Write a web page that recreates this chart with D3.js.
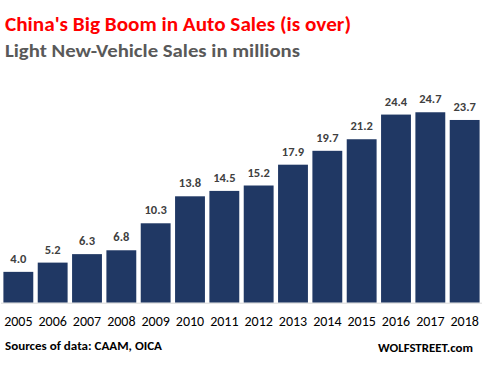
<!DOCTYPE html>
<html><head><meta charset="utf-8">
<script src="https://cdn.jsdelivr.net/npm/d3@7"></script>
<style>
html,body{margin:0;padding:0;background:#fff;}
svg{display:block;font-family:Carlito, Lato, "Open Sans", sans-serif;}
</style></head>
<body>
<svg id="chart" width="484" height="365"></svg>
<script>
const years = ["2005","2006","2007","2008","2009","2010","2011","2012","2013","2014","2015","2016","2017","2018"];
const sales = [4.0, 5.2, 6.3, 6.8, 10.3, 13.8, 14.5, 15.2, 17.9, 19.7, 21.2, 24.4, 24.7, 23.7];
const titleText = "China's Big Boom in Auto Sales (is over)";
const subtitleText = "Light New-Vehicle Sales in millions";
const sourceText = "Sources of data: CAAM, OICA";
const brandText = "WOLFSTREET.com";

const svg = d3.select("#chart");
const x = d3.scaleBand().domain(years).range([1, 482]).paddingInner(0.13).paddingOuter(0.07);
const y = d3.scaleLinear().domain([0, 30]).range([302.7, 71.4]);

svg.append("text").attr("x", 5).attr("y", 31).attr("font-size", 20).attr("font-weight", "bold")
  .attr("fill", "#ff0000").attr("textLength", 346).attr("lengthAdjust", "spacingAndGlyphs").text(titleText);
svg.append("text").attr("x", 5).attr("y", 57).attr("font-size", 19).attr("font-weight", "bold")
  .attr("fill", "#595959").attr("textLength", 295).attr("lengthAdjust", "spacingAndGlyphs").text(subtitleText);

svg.selectAll("rect.bar").data(years).enter().append("rect").attr("class", "bar")
  .attr("x", d => x(d)).attr("width", x.bandwidth())
  .attr("y", (d, i) => y(sales[i])).attr("height", (d, i) => y(0) - y(sales[i]))
  .attr("fill", "#203864");

svg.append("line").attr("x1", 1).attr("x2", 482).attr("y1", 303.2).attr("y2", 303.2)
  .attr("stroke", "#d9d9d9").attr("stroke-width", 1);

svg.selectAll("text.val").data(years).enter().append("text").attr("class", "val")
  .attr("x", d => x(d) + x.bandwidth() / 2).attr("y", (d, i) => y(sales[i]) - 9)
  .attr("text-anchor", "middle").attr("font-size", 12.5).attr("font-weight", "bold").attr("fill", "#404040")
  .text((d, i) => sales[i].toFixed(1));

const xAxis = d3.axisBottom(x).tickSize(0).tickPadding(0);
const gx = svg.append("g").attr("transform", "translate(0,313)").call(xAxis);
gx.select(".domain").remove();
gx.selectAll("text").attr("font-size", 14).attr("fill", "#000").attr("font-family", "Carlito, Lato, sans-serif").attr("dy", "0.9em");

svg.append("text").attr("x", 5).attr("y", 350).attr("font-size", 11).attr("font-weight", "bold")
  .attr("fill", "#000").attr("textLength", 157).attr("lengthAdjust", "spacingAndGlyphs").text(sourceText);
svg.append("text").attr("x", 378).attr("y", 352).attr("font-size", 12).attr("font-weight", "bold")
  .attr("fill", "#000").attr("textLength", 95).attr("lengthAdjust", "spacingAndGlyphs").text(brandText);
</script>
</body></html>
